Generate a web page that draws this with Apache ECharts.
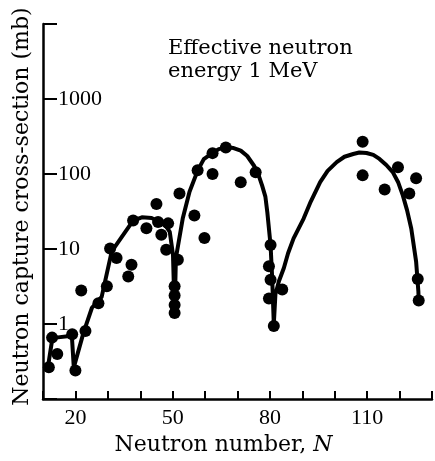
<!DOCTYPE html>
<html>
<head>
<meta charset="utf-8">
<script src="https://cdn.jsdelivr.net/npm/echarts@6/dist/echarts.min.js"></script>
<style>
  html, body { margin: 0; padding: 0; background: #fff; }
  #chart { width: 435px; height: 461px; }
</style>
</head>
<body>
<div id="chart"></div>
<script>
// fitted curve through the shell minima (neutron number, cross-section in mb)
var curveN = [11.6, 12.7, 14.0, 18.9, 19.5, 22.5, 25.1, 28.1, 31.2, 37.8, 40.5, 43.5, 46.0, 48.0, 49.1, 50.1, 50.6,
  51.0, 53.1, 55.2, 57.7, 59.6, 62.3, 64.2, 66.4, 68.8, 71.0, 73.0, 75.1, 76.4, 77.6, 78.6, 79.2, 80.2, 80.7, 81.2,
  81.7, 82.8, 84.3, 85.6, 87.3, 90.4, 92.6, 95.5, 97.8, 100.6, 103.0, 105.7, 107.6, 109.8, 111.9, 113.8,
  115.9, 117.9, 119.6, 121.0, 122.3, 123.6, 125.1, 125.8, 125.9]
var curveY = [0.28, 0.57, 0.66, 0.70, 0.265, 0.77, 1.65, 2.3, 9.3, 24, 26.5, 26, 23, 20, 17, 8.4, 1.4,
  7.6, 25.5, 58, 111, 158, 191, 215, 227, 222, 205, 174, 129, 100, 70, 50, 31, 11.3, 4.1, 1.0,
  2.5, 3.75, 5.6, 8.8, 13.9, 25.5, 43, 78, 110, 144, 170, 185, 194, 191, 180, 159,
  132, 106, 77, 52, 33, 18.8, 6.8, 2.7, 2.06]

// measured points
var dotN = [11.8, 12.8, 14.4, 19.0, 20.0, 21.8, 23.1, 27.1, 29.7, 30.7, 32.7, 36.3, 37.3, 37.8,
  41.9, 45.0, 45.5, 46.5, 48.0, 48.6, 50.6, 50.6, 50.6, 50.6, 51.6, 52.1, 56.7, 57.7, 59.8,
  62.3, 62.3, 66.4, 71.0, 75.6, 80.2, 79.7, 80.2, 79.7, 81.2, 83.8,
  108.6, 108.6, 115.4, 119.5, 123.0, 125.1, 125.6, 125.9]
var dotY = [0.265, 0.66, 0.40, 0.73, 0.24, 2.8, 0.81, 1.9, 3.2, 10.2, 7.6, 4.3, 6.2, 24,
  19, 40, 23, 15.5, 9.8, 22, 3.2, 2.4, 1.8, 1.4, 7.2, 55, 28, 112, 14,
  100, 190, 226, 78, 106, 11.3, 5.9, 3.9, 2.2, 0.94, 2.9,
  270, 96, 62, 123, 55, 88, 4.0, 2.06]

var xLabels = [20, 50, 80, 110]
var yLabels = [1, 10, 100, 1000]

var chart = echarts.init(document.getElementById('chart'))
var ink = '#000'
var serif = 'Liberation Serif'
var wideSerif = 'DejaVu Serif'

var curve = curveN.map(function (n, i) { return [n, curveY[i]] })
var dots = dotN.map(function (n, i) { return [n, dotY[i]] })

var option = {
  backgroundColor: '#fff',
  animation: false,
  grid: { left: 43, right: 0, top: 24, bottom: 59 },
  xAxis: {
    type: 'value',
    min: 10,
    max: 130,
    interval: 10,
    name: '{a|Neutron number, }{i|N}',
    nameLocation: 'middle',
    nameGap: 30,
    nameTextStyle: {
      padding: [0, 28, 0, 0],
      rich: {
        a: { fontFamily: wideSerif, fontSize: 22, color: ink },
        i: { fontFamily: wideSerif, fontSize: 22, fontStyle: 'italic', color: ink }
      }
    },
    axisLine: { lineStyle: { color: ink, width: 2.5 } },
    axisTick: { inside: true, length: 8, lineStyle: { color: ink, width: 2 } },
    axisLabel: {
      margin: 8,
      color: ink,
      fontFamily: serif,
      fontSize: 22,
      showMinLabel: true,
      showMaxLabel: true,
      formatter: function (v) {
        return xLabels.indexOf(Math.round(v)) >= 0 ? String(Math.round(v)) : ''
      }
    },
    splitLine: { show: false }
  },
  yAxis: {
    type: 'log',
    logBase: 10,
    min: 0.1,
    max: 10000,
    name: 'Neutron capture cross-section (mb)',
    nameLocation: 'middle',
    nameGap: 10,
    nameTextStyle: { fontFamily: wideSerif, fontSize: 22, color: ink, padding: [0, 0, 0, 10] },
    axisLine: { lineStyle: { color: ink, width: 2.5 } },
    axisTick: { inside: true, length: 14, lineStyle: { color: ink, width: 2 } },
    axisLabel: {
      inside: true,
      margin: 15,
      color: ink,
      fontFamily: serif,
      fontSize: 22,
      formatter: function (v) {
        var r = Math.round(v * 10) / 10
        return yLabels.indexOf(r) >= 0 ? String(r) : ''
      }
    },
    splitLine: { show: false }
  },
  graphic: [
    {
      type: 'text',
      left: 168,
      top: 37,
      style: {
        text: 'Effective neutron\nenergy 1 MeV',
        fontFamily: wideSerif,
        fontSize: 21,
        lineHeight: 23,
        fill: ink
      }
    }
  ],
  series: [
    {
      type: 'line',
      data: curve,
      smooth: false,
      showSymbol: false,
      lineStyle: { color: ink, width: 4, join: 'round', cap: 'round' },
      z: 2
    },
    {
      type: 'scatter',
      data: dots,
      symbolSize: 12,
      itemStyle: { color: ink, opacity: 1 },
      z: 3
    }
  ]
}

chart.setOption(option)
</script>
</body>
</html>
